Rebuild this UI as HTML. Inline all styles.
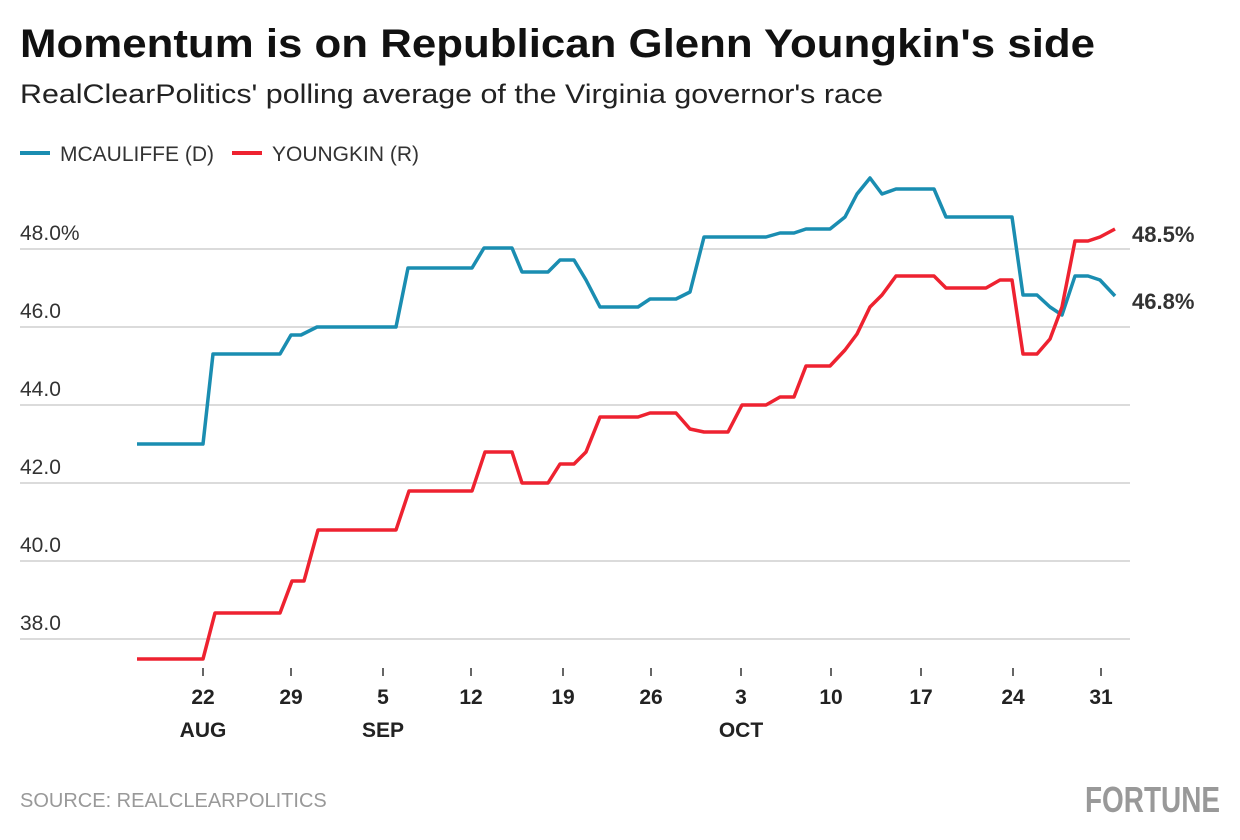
<!DOCTYPE html>
<html><head><meta charset="utf-8"><style>
html,body{margin:0;padding:0;background:#fff;width:1240px;height:840px;overflow:hidden;font-family:"Liberation Sans",sans-serif}
</style></head><body>
<svg width="1240" height="840" viewBox="0 0 1240 840" xmlns="http://www.w3.org/2000/svg" font-family="Liberation Sans, sans-serif">
<text x="20" y="57" font-size="40" font-weight="bold" fill="#111" textLength="1075" lengthAdjust="spacingAndGlyphs">Momentum is on Republican Glenn Youngkin's side</text>
<text x="20" y="103" font-size="27" fill="#222" textLength="863" lengthAdjust="spacingAndGlyphs">RealClearPolitics' polling average of the Virginia governor's race</text>
<line x1="20" y1="153" x2="50" y2="153" stroke="#1a8db1" stroke-width="4"/>
<text x="60" y="161" font-size="21" fill="#333">MCAULIFFE (D)</text>
<line x1="232" y1="153" x2="262" y2="153" stroke="#ee2230" stroke-width="4"/>
<text x="272" y="161" font-size="21" fill="#333">YOUNGKIN (R)</text>
<g stroke="#cfcfcf" stroke-width="1.5">
<line x1="20" y1="249" x2="1130" y2="249"/><line x1="20" y1="327" x2="1130" y2="327"/><line x1="20" y1="405" x2="1130" y2="405"/><line x1="20" y1="483" x2="1130" y2="483"/><line x1="20" y1="561" x2="1130" y2="561"/><line x1="20" y1="639" x2="1130" y2="639"/>
</g>
<g font-size="21" fill="#333">
<text x="20" y="240">48.0%</text><text x="20" y="318">46.0</text><text x="20" y="396">44.0</text><text x="20" y="474">42.0</text><text x="20" y="552">40.0</text><text x="20" y="630">38.0</text>
</g>
<g stroke="#333" stroke-width="1.5">
<line x1="203" y1="668" x2="203" y2="676"/><line x1="291" y1="668" x2="291" y2="676"/><line x1="383" y1="668" x2="383" y2="676"/><line x1="471" y1="668" x2="471" y2="676"/><line x1="563" y1="668" x2="563" y2="676"/><line x1="651" y1="668" x2="651" y2="676"/><line x1="741" y1="668" x2="741" y2="676"/><line x1="831" y1="668" x2="831" y2="676"/><line x1="921" y1="668" x2="921" y2="676"/><line x1="1013" y1="668" x2="1013" y2="676"/><line x1="1101" y1="668" x2="1101" y2="676"/>
</g>
<g font-size="21" fill="#222" font-weight="bold" text-anchor="middle">
<text x="203" y="704">22</text><text x="291" y="704">29</text><text x="383" y="704">5</text><text x="471" y="704">12</text><text x="563" y="704">19</text><text x="651" y="704">26</text><text x="741" y="704">3</text><text x="831" y="704">10</text><text x="921" y="704">17</text><text x="1013" y="704">24</text><text x="1101" y="704">31</text>
<text x="203" y="737">AUG</text><text x="383" y="737">SEP</text><text x="741" y="737">OCT</text>
</g>
<polyline fill="none" stroke="#1a8db1" stroke-width="3.5" stroke-linejoin="round" points="137,444 203,444 213,354 280,354 291,335 301,335 317,327 396,327 408,268 472,268 484,248 512,248 522,272 548,272 560,260 574,260 586,280 600,307 638,307 650,299 676,299 690,292 704,237 766,237 780,233 794,233 806,229 830,229 845,217 857,194 870,178 882,194 896,189 934,189 946,217 1012,217 1023,295 1037,295 1050,307 1062,315 1075,276 1088,276 1100,280 1115,296"/>
<polyline fill="none" stroke="#ee2230" stroke-width="3.5" stroke-linejoin="round" points="137,659 203,659 215,613 280,613 292,581 304,581 318,530 396,530 409,491 472,491 485,452 512,452 522,483 548,483 560,464 574,464 586,452 600,417 638,417 650,413 676,413 690,429 704,432 728,432 742,405 766,405 780,397 794,397 806,366 830,366 845,350 857,334 870,307 882,295 896,276 934,276 946,288 986,288 1000,280 1012,280 1023,354 1037,354 1050,339 1062,307 1075,241 1088,241 1100,237 1115,229"/>
<text x="1132" y="242" font-size="22" font-weight="bold" fill="#333">48.5%</text>
<text x="1132" y="309" font-size="22" font-weight="bold" fill="#333">46.8%</text>
<text x="20" y="807" font-size="20" fill="#999">SOURCE: REALCLEARPOLITICS</text>
<text x="1220" y="812" font-size="36" font-weight="bold" fill="#999" text-anchor="end" textLength="135" lengthAdjust="spacingAndGlyphs">FORTUNE</text>
</svg>
</body></html>
